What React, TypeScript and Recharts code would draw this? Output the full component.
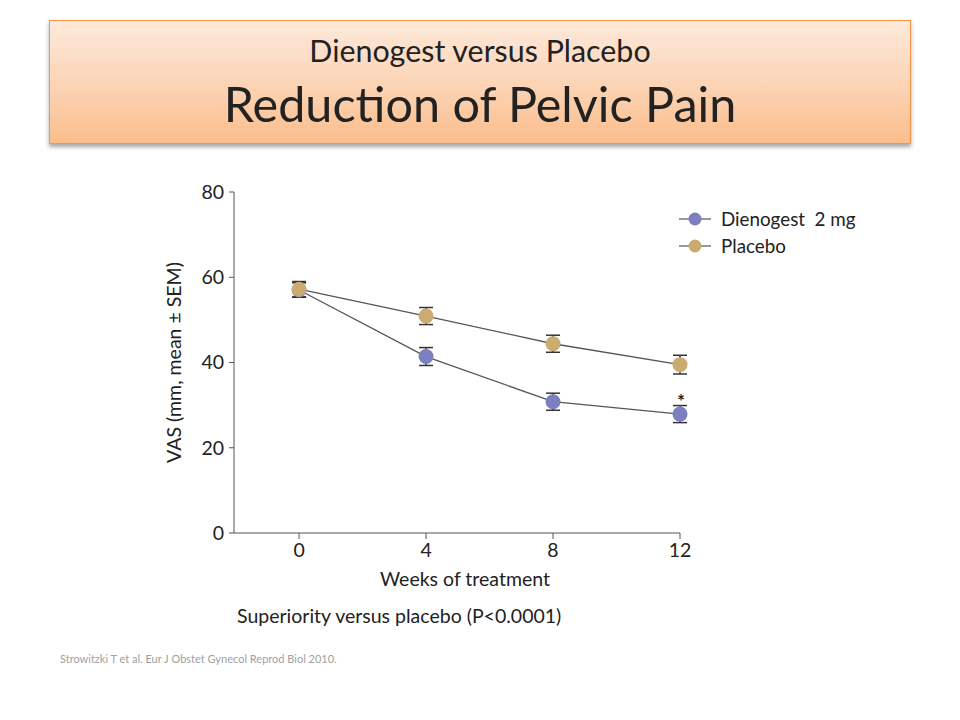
import React from 'react';
import { LineChart, Line, XAxis, YAxis, ErrorBar, Legend } from 'recharts';

const weeks = [0, 4, 8, 12];
const dienogest = [57.0, 41.4, 30.8, 27.9];
const dienogestSem = [1.7, 2.1, 2.0, 2.0];
const placebo = [57.2, 50.9, 44.4, 39.5];
const placeboSem = [1.8, 2.0, 2.0, 2.2];
const dienogestMarks = ['', '', '', '*'];
const yTicks = [0, 20, 40, 60, 80];
const xTicks = [0, 4, 8, 12];
const seriesNames = ['Dienogest  2 mg', 'Placebo'];
const seriesColors = ['#7d80c0', '#cbab70'];

const FONT = 'Lato, "Open Sans", sans-serif';
const FS = 19.5;

const data = weeks.map((w, i) => ({
  week: w,
  dienogest: dienogest[i],
  dienogestErr: dienogestSem[i],
  placebo: placebo[i],
  placeboErr: placeboSem[i],
}));

const renderLegend = () => (
  <div style={{ fontFamily: FONT, fontSize: 18.8, color: '#222' }}>
    {seriesNames.map((n, i) => (
      <div key={n} style={{ display: 'flex', alignItems: 'center', height: 27 }}>
        <svg width={32} height={16}>
          <line x1={0} y1={8} x2={32} y2={8} stroke="#777" strokeWidth={1.5} />
          <circle cx={16} cy={8} r={6.5} fill={seriesColors[i]} />
        </svg>
        <span style={{ marginLeft: 10, whiteSpace: 'pre' }}>{n}</span>
      </div>
    ))}
  </div>
);

const renderYLabel = (props: any) => {
  const vb = props.viewBox || {};
  const x = vb.x - 1;
  const y = vb.y + vb.height / 2;
  return (
    <text
      x={x}
      y={y}
      transform={`rotate(-90 ${x} ${y})`}
      textAnchor="middle"
      dominantBaseline="central"
      fill="#222"
      fontSize={FS}
      fontFamily={FONT}
    >
      VAS (mm, mean ± SEM)
    </text>
  );
};

const renderXLabel = (props: any) => {
  const vb = props.viewBox || {};
  const x = vb.x + vb.width / 2 + 8;
  const y = vb.y + 45;
  return (
    <text x={x} y={y} textAnchor="middle" dominantBaseline="central" fill="#222" fontSize={FS} fontFamily={FONT}>
      Weeks of treatment
    </text>
  );
};

const renderStar = (props: any) => {
  const { x, y, index } = props;
  const s = dienogestMarks[index];
  if (!s) return null;
  return (
    <text x={x + 1} y={y - 6} textAnchor="middle" fontSize={19} fontWeight="bold" fill="#222" fontFamily={FONT}>
      {s}
    </text>
  );
};

export default function App() {
  return (
    <div style={{ position: 'absolute', left: 0, top: 0, width: 960, height: 720, background: '#fff', fontFamily: FONT }}>
      <div
        style={{
          position: 'absolute',
          left: 49,
          top: 20,
          width: 860,
          height: 122,
          border: '1px solid #f79646',
          background: 'linear-gradient(to bottom, #fde9da 0%, #fcd3b3 55%, #fbbd8c 100%)',
          boxShadow: '0 3px 4px rgba(0,0,0,0.35)',
          color: '#222',
          textAlign: 'center',
        }}
      >
        <div style={{ position: 'absolute', left: 0, right: 0, top: 11, fontSize: 30.4, lineHeight: '36px' }}>
          Dienogest versus Placebo
        </div>
        <div style={{ position: 'absolute', left: 0, right: 0, top: 53, fontSize: 48.5, lineHeight: '58px' }}>
          Reduction of Pelvic Pain
        </div>
      </div>

      <div style={{ position: 'absolute', left: 0, top: 0 }}>
        <LineChart width={960} height={720} data={data} margin={{ top: 192, right: 280, bottom: 157, left: 174 }}>
          <XAxis
            dataKey="week"
            type="number"
            domain={[-2.05, 12]}
            ticks={xTicks}
            tickSize={6}
            tickMargin={4}
            height={30}
            stroke="#555"
            tick={{ fill: '#222', fontSize: FS, fontFamily: FONT }}
            label={renderXLabel}
          />
          <YAxis
            type="number"
            domain={[0, 80]}
            ticks={yTicks}
            width={60}
            tickSize={5}
            tickMargin={5}
            stroke="#555"
            tick={{ fill: '#222', fontSize: FS, fontFamily: FONT }}
            label={renderYLabel}
          />
          <Legend
            layout="vertical"
            align="center"
            verticalAlign="middle"
            content={renderLegend}
            wrapperStyle={{ left: 679, top: 205, width: 220 }}
          />
          <Line
            dataKey="dienogest"
            name={seriesNames[0]}
            stroke="#555"
            strokeWidth={1.3}
            dot={{ r: 7.5, fill: seriesColors[0], stroke: 'none' }}
            activeDot={false}
            isAnimationActive={false}
            label={renderStar}
          >
            <ErrorBar dataKey="dienogestErr" width={7} stroke="#333" strokeWidth={1.5} direction="y" />
          </Line>
          <Line
            dataKey="placebo"
            name={seriesNames[1]}
            stroke="#555"
            strokeWidth={1.3}
            dot={{ r: 7.5, fill: seriesColors[1], stroke: 'none' }}
            activeDot={false}
            isAnimationActive={false}
          >
            <ErrorBar dataKey="placeboErr" width={7} stroke="#333" strokeWidth={1.5} direction="y" />
          </Line>
        </LineChart>
      </div>

      <div style={{ position: 'absolute', left: 237, top: 604, fontSize: FS, color: '#222', whiteSpace: 'pre' }}>
        Superiority versus placebo (P&lt;0.0001)
      </div>
      <div style={{ position: 'absolute', left: 60, top: 652, fontSize: 11, color: '#a0a0a0', whiteSpace: 'pre' }}>
        Strowitzki T et al. Eur J Obstet Gynecol Reprod Biol 2010.
      </div>
    </div>
  );
}
